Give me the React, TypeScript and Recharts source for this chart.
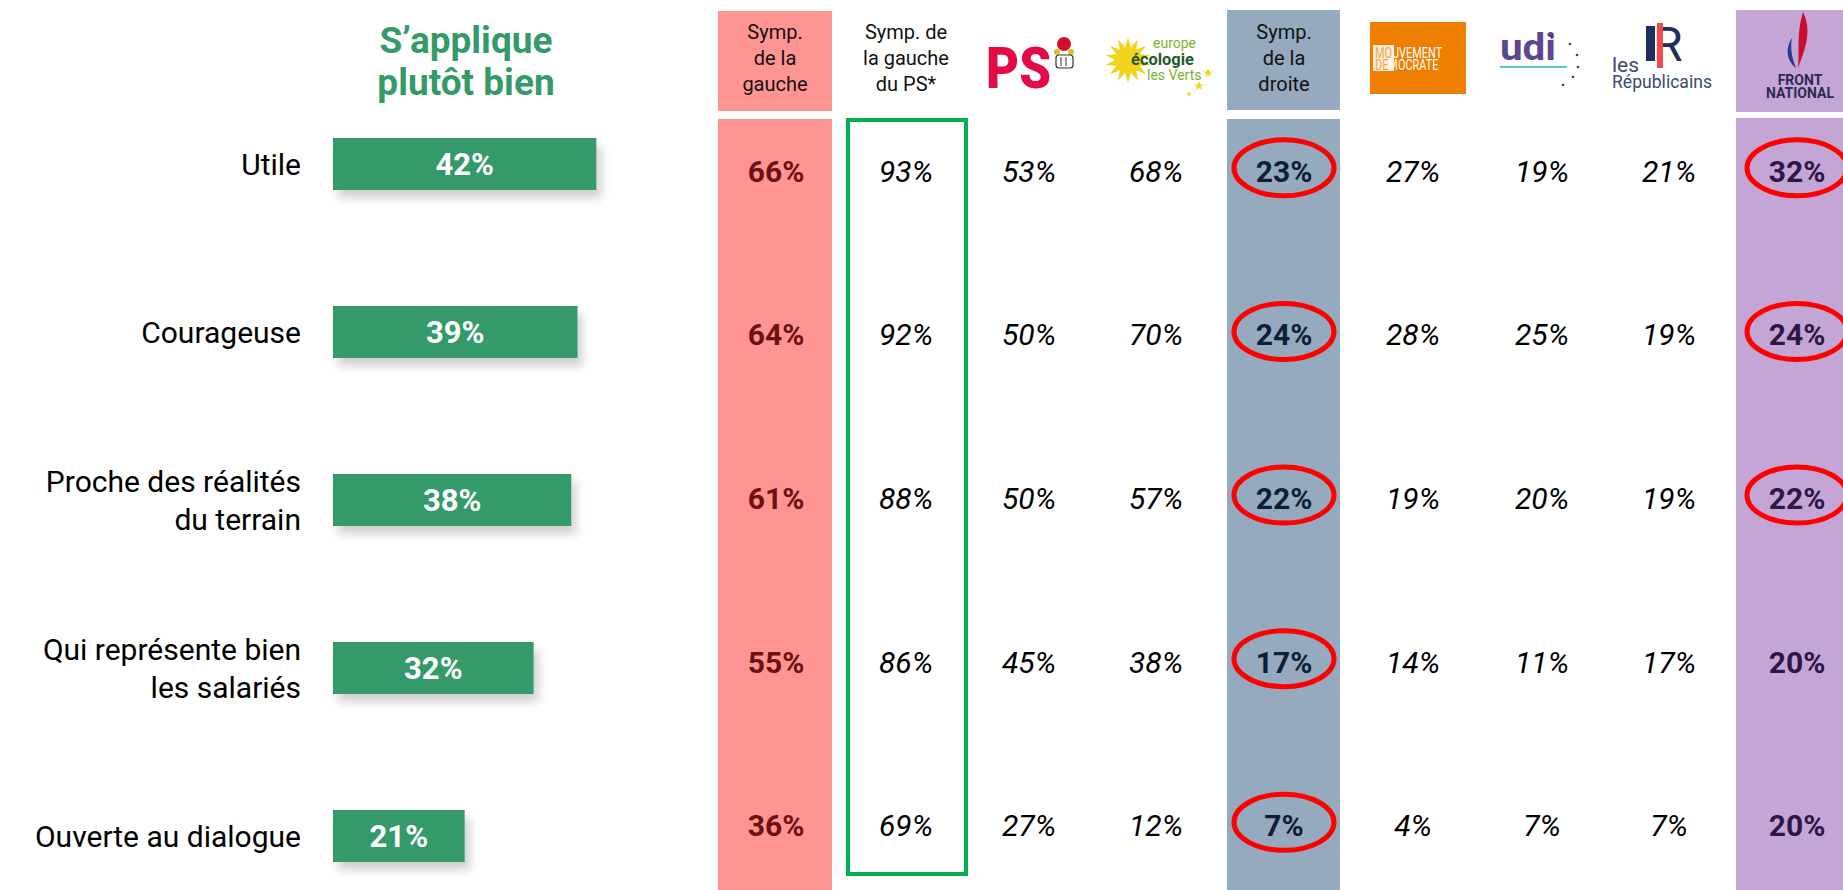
import React from "react";
import { Bar, BarChart, Customized, LabelList, XAxis, YAxis } from "recharts";

// rows
const categories = [
    "Utile",
    "Courageuse",
    "Proche des réalités\ndu terrain",
    "Qui représente bien\nles salariés",
    "Ouverte au dialogue",
];
// "S'applique plutôt bien" - ensemble
const overall = [42, 39, 38, 32, 21];
// par proximité politique
const sympGauche = [66, 64, 61, 55, 36];
const sympGauchePS = [93, 92, 88, 86, 69];
const ps = [53, 50, 50, 45, 27];
const eelv = [68, 70, 57, 38, 12];
const sympDroite = [23, 24, 22, 17, 7];
const modem = [27, 28, 19, 14, 4];
const udi = [19, 25, 20, 11, 7];
const lr = [21, 19, 19, 17, 7];
const fn = [32, 24, 22, 20, 20];
// cercles rouges
const circledDroite = [true, true, true, true, true];
const circledFn = [true, true, true, false, false];

const data = categories.map((name, i) => ({
    name,
    overall: overall[i],
    sympGauche: sympGauche[i],
    sympGauchePS: sympGauchePS[i],
    ps: ps[i],
    eelv: eelv[i],
    sympDroite: sympDroite[i],
    modem: modem[i],
    udi: udi[i],
    lr: lr[i],
    fn: fn[i],
}));

const GREEN = "#359a69";
const PINK = "#ff9593";
const BLUE = "#95a9bf";
const PURPLE = "#c3a6d6";

interface ColumnDef {
    key: string;
    cx: number;
    bold: boolean;
    color: string;
    circled?: boolean[];
}

const columns: ColumnDef[] = [
    { key: "sympGauche", cx: 776, bold: true, color: "#6e0f10" },
    { key: "sympGauchePS", cx: 906, bold: false, color: "#000" },
    { key: "ps", cx: 1029, bold: false, color: "#000" },
    { key: "eelv", cx: 1156, bold: false, color: "#000" },
    { key: "sympDroite", cx: 1284, bold: true, color: "#0f1d38", circled: circledDroite },
    { key: "modem", cx: 1413, bold: false, color: "#000" },
    { key: "udi", cx: 1542, bold: false, color: "#000" },
    { key: "lr", cx: 1669, bold: false, color: "#000" },
    { key: "fn", cx: 1797, bold: true, color: "#2d1744", circled: circledFn },
];

const RowTick = (props: any) => {
    const { x, y, payload } = props;
    const lines = String(payload.value).split("\n");
    const lh = 38;
    const top = y - ((lines.length - 1) * lh) / 2;
    return (
        <text x={x} y={top} textAnchor="end" fontSize={30} fill="#000" fontFamily="Roboto">
            {lines.map((l, i) => (
                <tspan key={i} x={x} y={top + i * lh + 11}>{l}</tspan>
            ))}
        </text>
    );
};

const makeCell = (col: ColumnDef) => (props: any) => {
    const vb = props.viewBox ?? props;
    const cy = Number(vb.y) + Number(vb.height) / 2;
    const idx = props.index;
    const value = props.value ?? (data[idx] as any)[col.key];
    const circled = col.circled ? col.circled[idx] : false;
    return (
        <g>
            {circled && (
                <ellipse cx={col.cx} cy={cy - 5} rx={50} ry={28}
                    fill="none" stroke="#ff0000" strokeWidth={5} />
            )}
            <text x={col.cx} y={cy + 9} textAnchor="middle" fontSize={30}
                fontFamily="Roboto"
                fontWeight={col.bold ? 700 : 400}
                fontStyle={col.bold ? "normal" : "italic"}
                fill={col.color}>
                {value}%
            </text>
        </g>
    );
};

const sunPoints = (cx: number, cy: number, ro: number, ri: number, n: number) => {
    const pts: string[] = [];
    for (let k = 0; k < n * 2; k++) {
        const r = k % 2 === 0 ? ro : ri;
        const a = (Math.PI * k) / n - Math.PI / 2;
        pts.push(`${cx + r * Math.cos(a)},${cy + r * Math.sin(a)}`);
    }
    return pts.join(" ");
};

const HeaderText = ({ x, lines, color = "#111" }: { x: number; lines: string[]; color?: string }) => (
    <text x={x} textAnchor="middle" fontSize={20} fill={color} fontFamily="Roboto">
        {lines.map((l, i) => (
            <tspan key={i} x={x} y={39 + i * 26}>{l}</tspan>
        ))}
    </text>
);

// décor : fonds de colonnes, en-têtes, logos
const Decor = () => (
    <g>
        <defs>
            <filter id="barShadow" x="-10%" y="-30%" width="130%" height="190%">
                <feDropShadow dx="5" dy="8" stdDeviation="5" floodColor="#000" floodOpacity="0.18" />
            </filter>
        </defs>

        <text x={466} y={53} textAnchor="middle" fontSize={37} fontWeight={700} fill={GREEN} fontFamily="Roboto">S’applique</text>
        <text x={466} y={95} textAnchor="middle" fontSize={37} fontWeight={700} fill={GREEN} fontFamily="Roboto">plutôt bien</text>

        <rect x={718} y={11} width={114} height={100} fill={PINK} />
        <rect x={718} y={119} width={114} height={800} fill={PINK} />
        <rect x={1227} y={10} width={113} height={100} fill={BLUE} />
        <rect x={1227} y={119} width={113} height={800} fill={BLUE} />
        <rect x={1736} y={10} width={110} height={102} fill={PURPLE} />
        <rect x={1736} y={118} width={110} height={800} fill={PURPLE} />
        <rect x={848} y={120} width={118} height={754} fill="none" stroke="#00b050" strokeWidth={4} />

        <HeaderText x={775} lines={["Symp.", "de la", "gauche"]} />
        <HeaderText x={906} lines={["Symp. de", "la gauche", "du PS*"]} />
        <HeaderText x={1284} lines={["Symp.", "de la", "droite"]} />

        {/* PS */}
        <text x={986} y={88} fontSize={58} fontWeight={900} fill="#e30b46" fontFamily="Roboto"
            textLength={65} lengthAdjust="spacingAndGlyphs">PS</text>
        <circle cx={1064} cy={44} r={7} fill="#d0102a" />
        <circle cx={1057} cy={52} r={3} fill="#d9c21c" />
        <circle cx={1071} cy={52} r={3} fill="#d9c21c" />
        <rect x={1056} y={55} width={17} height={13} rx={3} fill="#fff" stroke="#333" strokeWidth={1.2} />
        <line x1={1061} y1={57} x2={1061} y2={66} stroke="#333" strokeWidth={1} />
        <line x1={1066} y1={57} x2={1066} y2={66} stroke="#333" strokeWidth={1} />

        {/* EELV */}
        <polygon points={sunPoints(1128, 60, 23, 13, 14)} fill="#f1d41b" />
        <text x={1153} y={48} fontSize={14} fill="#7db22e" fontFamily="Roboto">europe</text>
        <text x={1131} y={65} fontSize={16} fontWeight={700} fill="#1d5b2e" fontFamily="Roboto"
            textLength={63} lengthAdjust="spacingAndGlyphs">écologie</text>
        <text x={1147} y={80} fontSize={14} fill="#7db22e" fontFamily="Roboto">les Verts</text>
        <polygon points={sunPoints(1208, 73, 5, 2, 5)} fill="#f1d41b" />
        <polygon points={sunPoints(1199, 86, 5, 2, 5)} fill="#f1d41b" />
        <polygon points={sunPoints(1189, 94, 3, 1.2, 5)} fill="#f1d41b" />

        {/* MoDem */}
        <rect x={1370} y={22} width={96} height={72} fill="#ee7f01" />
        <rect x={1373} y={45} width={21} height={26} fill="#fff" opacity={0.85} />
        <g transform="translate(1375,58) scale(0.78,1)">
            <text x={0} y={0} fontSize={14} fill="#fff" fontFamily="Roboto">
                <tspan fill="#f2a550">MO</tspan>
                <tspan>UVEMENT</tspan>
            </text>
        </g>
        <g transform="translate(1375,70) scale(0.78,1)">
            <text x={0} y={0} fontSize={14} fill="#fff" fontFamily="Roboto">
                <tspan fill="#f2a550">DE</tspan>
                <tspan>MOCRATE</tspan>
            </text>
        </g>

        {/* UDI */}
        <text x={1500} y={60} fontSize={36} fontWeight={700} fill="#5c4591" fontFamily="Roboto"
            textLength={56} lengthAdjust="spacingAndGlyphs">udi</text>
        <rect x={1500} y={66} width={67} height={2} fill="#5bc0e8" />
        <polygon points={sunPoints(1552, 37, 3, 1.2, 5)} fill="#444" />
        <circle cx={1570} cy={44} r={1.3} fill="#444" />
        <circle cx={1577} cy={55} r={1.3} fill="#444" />
        <circle cx={1578} cy={67} r={1.3} fill="#444" />
        <circle cx={1573} cy={77} r={1.3} fill="#444" />
        <circle cx={1563} cy={85} r={1.3} fill="#444" />

        {/* LR */}
        <text x={1612} y={72} fontSize={21} fill="#3b4a6e" fontFamily="Roboto">les</text>
        <rect x={1646} y={26} width={9} height={35} fill="#1f2f5c" />
        <text x={1653} y={61} fontSize={48} fill="#1f2f5c" fontFamily="Roboto">R</text>
        <rect x={1657} y={23} width={6} height={45} fill="#ef4b4b" />
        <text x={1612} y={88} fontSize={19} fill="#3b4a6e" fontFamily="Roboto"
            textLength={100} lengthAdjust="spacingAndGlyphs">Républicains</text>

        {/* FN */}
        <path d="M1803,12 C1812,30 1806,48 1798,68 C1800,50 1796,36 1803,12 Z" fill="#c8102e" />
        <path d="M1792,38 C1784,50 1788,62 1796,68 C1792,58 1790,48 1792,38 Z" fill="#2b3a8f" />
        <text x={1800} y={85} textAnchor="middle" fontSize={14} fontWeight={700} fill="#2c2a50" fontFamily="Roboto">FRONT</text>
        <text x={1800} y={98} textAnchor="middle" fontSize={14} fontWeight={700} fill="#2c2a50" fontFamily="Roboto">NATIONAL</text>
    </g>
);

const ShadowBar = (props: any) => {
    const { x, y, width, height } = props;
    return <rect x={x} y={y} width={width} height={height} fill={GREEN} filter="url(#barShadow)" />;
};

export default function App() {
    return (
        <div style={{
            position: "absolute", left: 0, top: 0, width: 1843, height: 890,
            overflow: "hidden", background: "#fff", fontFamily: "Roboto, sans-serif",
        }}>
            <BarChart
                width={1843}
                height={920}
                data={data}
                layout="vertical"
                margin={{ top: 80, right: 883, bottom: 0, left: 0 }}>
                <Customized component={<Decor />} />
                <XAxis type="number" domain={[0, 100]} hide />
                <YAxis type="category" dataKey="name" width={333}
                    axisLine={false} tickLine={false} tickSize={0} tickMargin={32}
                    tick={<RowTick />} interval={0} />
                <XAxis xAxisId="t" type="number" domain={[0, "dataMax"]} hide />
                <YAxis yAxisId="t" type="category" dataKey="name" hide
                    padding={{ top: 11, bottom: 11 }} />
                <Bar dataKey="overall" barSize={52} shape={<ShadowBar />} isAnimationActive={false}>
                    <LabelList dataKey="overall" position="center" fill="#fff"
                        fontSize={31} fontWeight={700} fontFamily="Roboto"
                        formatter={(v: any) => `${v}%`} />
                </Bar>
                {columns.map((col) => (
                    <Bar key={col.key} dataKey={col.key} xAxisId="t" yAxisId="t" stackId="t"
                        fill="transparent" isAnimationActive={false}>
                        <LabelList dataKey={col.key} content={makeCell(col)} />
                    </Bar>
                ))}
            </BarChart>
        </div>
    );
}
